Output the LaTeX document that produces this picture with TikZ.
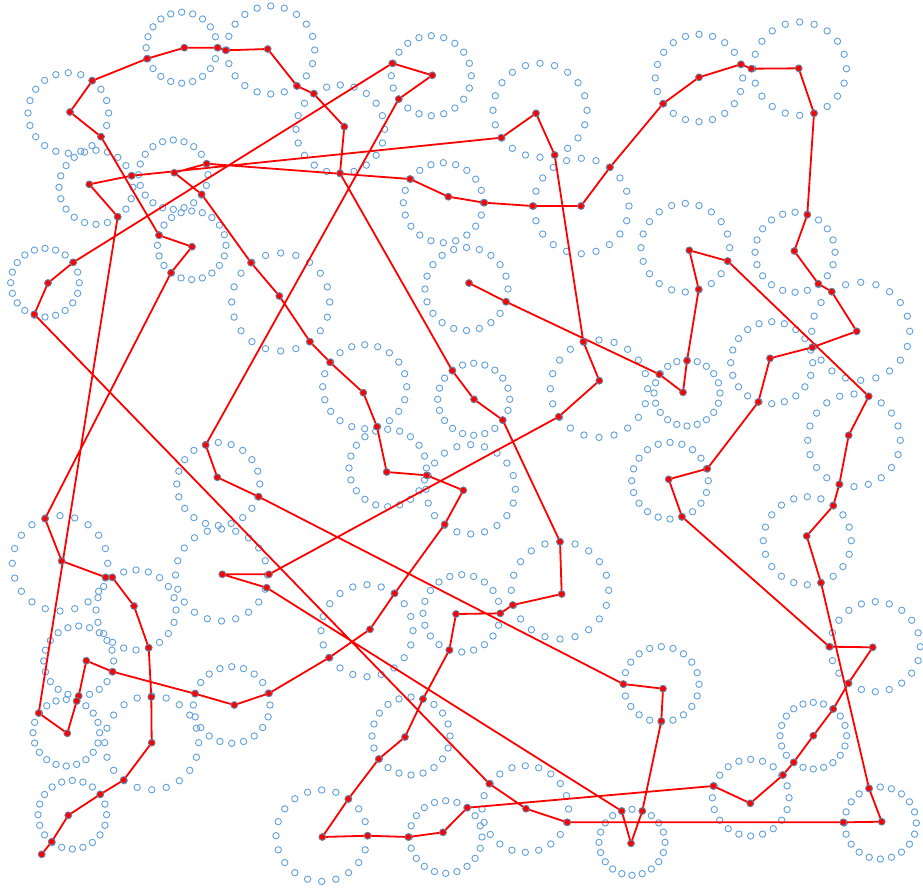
\documentclass[tikz,border=0pt]{standalone}
\definecolor{ringblue}{RGB}{96,160,220}
\definecolor{stopgray}{RGB}{100,130,165}
\begin{document}
\begin{tikzpicture}[x=1pt, y=-1pt,
    ring/.style={draw=ringblue, line width=0.9pt},
    tour/.style={red, line width=1.8pt, line join=round},
    stop/.style={fill=red, draw=stopgray, line width=0.9pt}]
  \useasboundingbox (0,0) rectangle (923,887);

  % 1. 圆形邻域 (每个圆取 20 个采样点)
  \foreach \cx/\cy/\r in {181.7/47.7/35.5, 68.3/113/40.3, 173.3/174.7/34.7, 96/187.3/37,
      191.7/245.3/34.3, 45/282.7/34.3, 270.7/50/44, 431.3/75.7/40, 340.3/129.3/44.3,
      443.3/202.7/40, 280.7/302/49, 466.5/289/41.5, 540/110.3/47, 581.3/206/47.7,
      699/78/43.7, 685.3/247.7/44.3, 799.7/68.7/46.7, 795/252.3/40, 860.7/331.3/49,
      771.7/362.7/41, 854/440.3/46.3, 807.3/540.7/44, 670/480.7/38.3, 599/388.7/48.7,
      687/393/33, 473.7/399.3/36, 470.7/489.3/44.7, 560/590.3/48.7, 364.7/386.7/42,
      387.7/468/38.7, 218.3/484/41.5, 367/630.7/46, 221.5/575/46, 60/563.3/47.7,
      136/610/40, 78.7/661/35, 66.3/732.7/33.3, 72.3/814.7/34.3, 151.7/742.7/47,
      231.7/705/38.3, 411/736/39, 321.7/835.7/45.7, 445.7/837/36.3, 461.7/613.3/38.7,
      661.3/684.3/37.7, 525.3/809/43.3, 632/842.3/33, 875.3/646.7/45, 813.3/735.7/33.3,
      750.7/797.7/38.3, 880.3/823/36}{
    \foreach \a in {0,18,...,342}
      \draw[ring, shift={(\cx,\cy)}] (\a:\r) circle[radius=3.2pt];
  }

  % 2. 访问点
  \foreach \px/\py [count=\i] in {41.7/854.3, 51.7/841.7, 68.3/815.3, 100.3/794.3,
      123.7/780, 151.7/742.7, 151.3/697, 148.7/647.7, 134/606, 112.3/577.3,
      105.7/577.3, 61.7/561, 45/518.7, 171/272.7, 192/246.7, 159/235.3, 101/136.7,
      70/112, 92.3/80.7, 147/58.7, 184.3/47.7, 217.7/47.7, 225.7/50.3, 267.7/49,
      297/86, 313.7/93.7, 344.3/126.7, 340/173.3, 452.3/370.7, 474/399.3, 502.7/420,
      560/541.7, 561.7/594, 512.7/605, 500.3/613.3, 456/614, 449.3/650, 423/699,
      405/737, 378.7/759, 348.3/799, 322.3/837, 367.7/835.7, 408.3/837, 443/832.3,
      467.3/807.7, 713.3/786, 750.3/803.3, 783/775, 793.7/762.3, 813.3/735.7,
      833.3/709, 848.3/683.3, 872.7/647.3, 829.3/646.7, 682/516.7, 668.7/479.3,
      707.3/468.7, 758.3/402, 770/358.3, 812.3/347.3, 856.7/331.3, 831.7/291.7,
      818.3/283.7, 794.3/251, 807.3/214.7, 814/113.3, 798.7/68.3, 751.3/68.7,
      741/64.3, 699/77.3, 663/103.7, 610/167.3, 581/206, 532.7/206, 484.3/202.7,
      448.3/196.7, 410/179, 206.7/163.7, 174.3/172.7, 201.7/194.3, 251/262.7,
      279.3/296, 310/341.7, 330/362.3, 363.3/392.7, 377/426.7, 386.7/472,
      426.7/475.3, 463.3/490.3, 444.7/524.3, 394.7/593.3, 370/629.3, 329/657.7,
      269/693.3, 234.3/705, 195/693.7, 112.7/671.7, 86.3/660.7, 78.7/696, 76.7/701,
      67.3/733.3, 38.7/713, 117.7/216.7, 89.3/184.3, 131.7/175.7, 501.3/137.7,
      536/113.3, 554.7/155, 583.3/341.7, 599.3/380.7, 558.7/416.7, 269/574.3,
      222.3/574.3, 266.7/587.7, 621.7/811, 631/843.3, 642.3/811, 661.3/721,
      663/688.7, 623.3/684, 258.7/496.7, 217.3/477.3, 205.7/445, 398.7/99,
      432.3/75.3, 392.3/63.3, 73.3/262.3, 48/283, 34.3/314.3, 489.3/783.7,
      526/808.7, 567.3/822.3, 843.3/822.3, 881.7/821.7, 869/788.3, 821/582.7,
      806.7/536, 833.3/505.7, 839.3/484.3, 848.7/435.3, 868.7/396.3, 727.7/261,
      689.3/250.3, 698.7/289.3, 687/360.7, 683/392.3, 659.3/374.3, 506/301.7,
      469/283}
    \coordinate (p\i) at (\px,\py);

  % 3. 路线
  \draw[tour] (p1) \foreach \i in {2,...,150} {-- (p\i)};

  % 4. 访问点标记 (画在最上层)
  \foreach \i in {1,...,150}
    \draw[stop] (p\i) circle[radius=3.4pt];
\end{tikzpicture}
\end{document}
